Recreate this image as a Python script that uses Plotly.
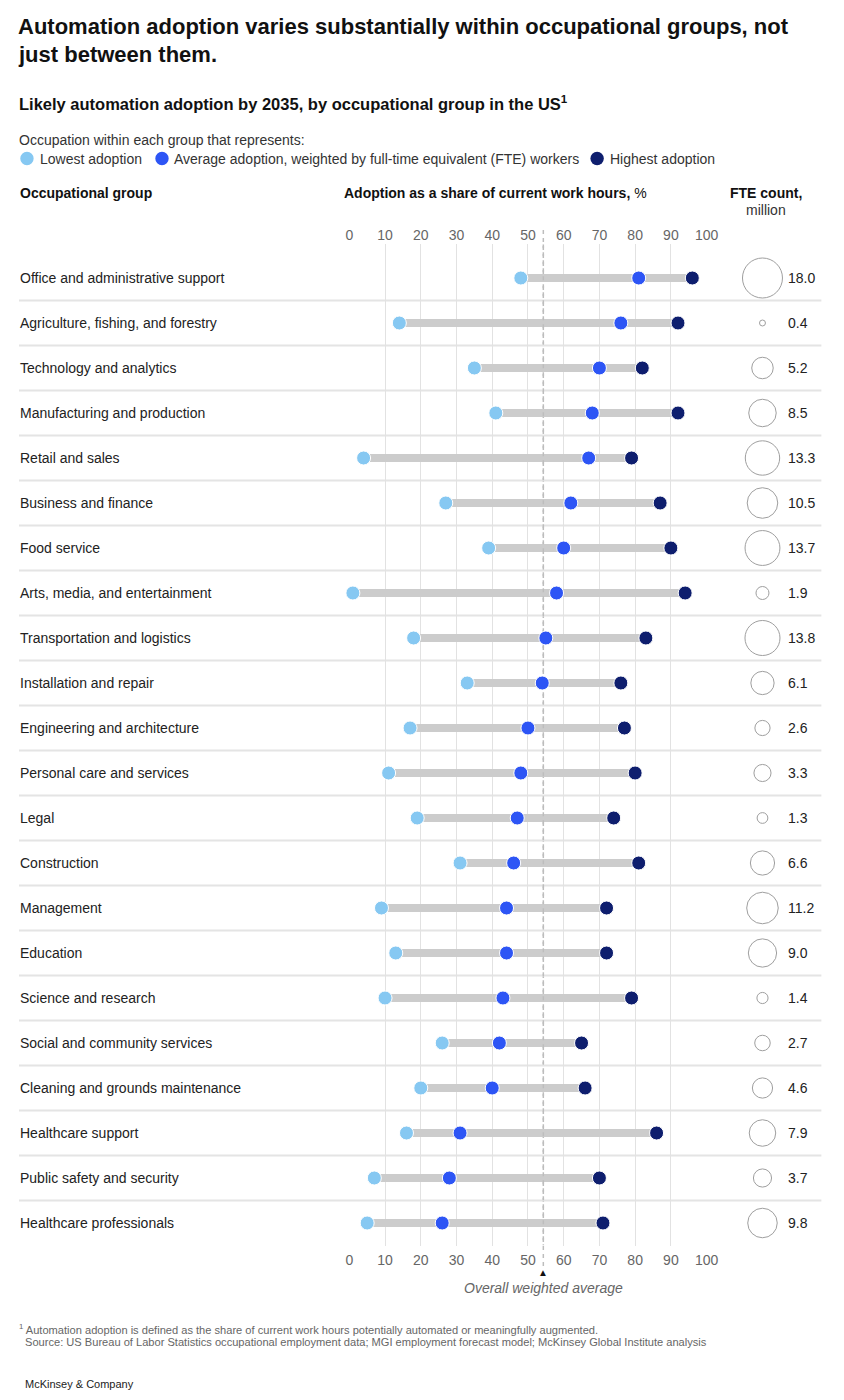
import plotly.graph_objects as go

# data
groups = [
    "Office and administrative support", "Agriculture, fishing, and forestry",
    "Technology and analytics", "Manufacturing and production", "Retail and sales",
    "Business and finance", "Food service", "Arts, media, and entertainment",
    "Transportation and logistics", "Installation and repair",
    "Engineering and architecture", "Personal care and services", "Legal",
    "Construction", "Management", "Education", "Science and research",
    "Social and community services", "Cleaning and grounds maintenance",
    "Healthcare support", "Public safety and security", "Healthcare professionals",
]
lowest = [48, 14, 35, 41, 4, 27, 39, 1, 18, 33, 17, 11, 19, 31, 9, 13, 10, 26, 20, 16, 7, 5]
average = [81, 76, 70, 68, 67, 62, 60, 58, 55, 54, 50, 48, 47, 46, 44, 44, 43, 42, 40, 31, 28, 26]
highest = [96, 92, 82, 92, 79, 87, 90, 94, 83, 76, 77, 80, 74, 81, 72, 72, 79, 65, 66, 86, 70, 71]
fte = [18.0, 0.4, 5.2, 8.5, 13.3, 10.5, 13.7, 1.9, 13.8, 6.1, 2.6, 3.3, 1.3, 6.6, 11.2, 9.0,
       1.4, 2.7, 4.6, 7.9, 3.7, 9.8]
overall_avg = 54.3
ticks = [0, 10, 20, 30, 40, 50, 60, 70, 80, 90, 100]

W, H = 844, 1400
FONT = "Liberation Sans"
C_LOW, C_AVG, C_HIGH = "#86c8f2", "#2d55f5", "#0e1e6e"
rows = list(range(len(groups)))


# the page comes out slightly squeezed horizontally, so map screen px -> paper
def px(x):
    return ((x - 3) / 0.983) / W


def py(y):
    return 1 - y / H


fig = go.Figure()

# gray range bars
bx, by = [], []
for i in rows:
    bx += [lowest[i], highest[i], None]
    by += [i, i, None]
fig.add_trace(go.Scatter(x=bx, y=by, mode="lines", line=dict(color="#cccccc", width=8),
                         hoverinfo="skip", showlegend=False))

# dashed overall average inside the plot area (above the bars)
fig.add_trace(go.Scatter(x=[overall_avg, overall_avg], y=[-0.75, 21.5], mode="lines",
                         line=dict(color="#bdbdbd", width=1.5, dash="4px,4px"),
                         hoverinfo="skip", showlegend=False))

for vals, col, name in [(lowest, C_LOW, "Lowest adoption"),
                        (average, C_AVG, "Average adoption"),
                        (highest, C_HIGH, "Highest adoption")]:
    fig.add_trace(go.Scatter(x=vals, y=rows, mode="markers", name=name, cliponaxis=False,
                             marker=dict(color=col, size=14, line=dict(color="white", width=1)),
                             showlegend=False))

# FTE bubbles
fig.add_trace(go.Scatter(x=[0.5] * len(rows), y=rows, xaxis="x2", mode="markers",
                         cliponaxis=False, showlegend=False,
                         marker=dict(size=fte, sizemode="area", sizeref=2 * max(fte) / 40 ** 2,
                                     color="white", line=dict(color="#777777", width=1))))

fig.update_layout(
    width=W, height=H, autosize=False, margin=dict(l=0, r=0, t=0, b=0),
    paper_bgcolor="white", plot_bgcolor="white",
    font=dict(family=FONT, size=14, color="#222222"),
    xaxis=dict(domain=[px(349), px(707)], range=[0, 100], tickvals=ticks,
               showgrid=True, gridcolor="#e2e2e2", gridwidth=1, zeroline=False,
               showline=False, ticks="", tickfont=dict(size=14, color="#666666"),
               ticklabelstandoff=4, fixedrange=True),
    xaxis3=dict(domain=[px(349), px(707)], range=[0, 100], tickvals=ticks, overlaying="x",
                side="top", showgrid=False, zeroline=False, showline=False, ticks="",
                tickfont=dict(size=14, color="#666666"), ticklabelstandoff=0,
                anchor="y", matches="x"),
    xaxis2=dict(domain=[px(740), px(786)], range=[0, 1], visible=False, anchor="y"),
    yaxis=dict(domain=[py(1245.5), py(244.25)], range=[21.5, -0.75], visible=False,
               fixedrange=True),
    showlegend=False,
)
# keep one invisible trace on xaxis3 so the top ticks render
fig.add_trace(go.Scatter(x=[0], y=[0], xaxis="x3", mode="markers", marker=dict(opacity=0),
                         hoverinfo="skip", showlegend=False))

shapes = []
# dashed average line extending beyond the plot area
shapes.append(dict(type="line", xref="x", yref="paper", x0=overall_avg, x1=overall_avg,
                   y0=py(1266), y1=py(228), layer="below",
                   line=dict(color="#bdbdbd", width=1.5, dash="4px,4px")))
# row separators
for i in rows[:-1]:
    shapes.append(dict(type="line", xref="paper", yref="y", x0=px(18), x1=px(822),
                       y0=i + 0.5, y1=i + 0.5, layer="below",
                       line=dict(color="#e4e4e4", width=2)))
# legend dots
for cx, col in [(26, C_LOW), (161.3, C_AVG), (597.3, C_HIGH)]:
    shapes.append(dict(type="circle", xref="paper", yref="paper", xsizemode="pixel",
                       ysizemode="pixel", xanchor=px(cx), yanchor=py(158.5),
                       x0=-6.7, x1=6.7, y0=-6.7, y1=6.7, fillcolor=col, line=dict(width=0)))
fig.update_layout(shapes=shapes)

ann = []


def txt(x, y, text, size=14, color="#222222", xanchor="left"):
    ann.append(dict(xref="paper", yref="paper", x=px(x), y=py(y), text=text, showarrow=False,
                    xanchor=xanchor, yanchor="middle", align=xanchor,
                    font=dict(family=FONT, size=size, color=color)))


txt(15.5, 27, "<b>Automation adoption varies substantially within occupational groups, not</b>",
    size=22, color="#111111")
txt(15.5, 55, "<b>just between them.</b>", size=22, color="#111111")
txt(16.5, 103, "<b>Likely automation adoption by 2035, by occupational group in the US<sup>1</sup></b>",
    size=16.5, color="#111111")
txt(16.5, 140, "Occupation within each group that represents:", size=14, color="#333333")
txt(36.8, 158.5, "Lowest adoption", size=14, color="#333333")
txt(171.8, 158.5, "Average adoption, weighted by full-time equivalent (FTE) workers", size=14,
    color="#333333")
txt(608.2, 158.5, "Highest adoption", size=14, color="#333333")
txt(17.5, 193, "<b>Occupational group</b>", size=14, color="#111111")
txt(341.5, 193, "<b>Adoption as a share of current work hours,</b> %", size=14, color="#111111")
txt(767, 193, "<b>FTE count,</b>", size=14, color="#111111", xanchor="center")
txt(767, 210, "million", size=14, color="#333333", xanchor="center")

for i, g in enumerate(groups):
    ann.append(dict(xref="paper", yref="y", x=px(16.8), y=i, text=g, showarrow=False,
                    xanchor="left", yanchor="middle", font=dict(size=14, color="#222222")))
    ann.append(dict(xref="paper", yref="y", x=px(786.5), y=i, text=f"{fte[i]:.1f}",
                    showarrow=False, xanchor="left", yanchor="middle",
                    font=dict(size=14, color="#222222")))

ann.append(dict(xref="x", yref="paper", x=overall_avg, y=py(1272), text="▲", showarrow=False,
                xanchor="center", yanchor="middle", font=dict(size=10, color="#111111")))
ann.append(dict(xref="x", yref="paper", x=overall_avg, y=py(1288),
                text="<i>Overall weighted average</i>", showarrow=False, xanchor="center",
                yanchor="middle", font=dict(size=14, color="#666666")))

txt(16.5, 1329, "<sup>1</sup> Automation adoption is defined as the share of current work hours "
    "potentially automated or meaningfully augmented.", size=11.1, color="#666666")
txt(22.5, 1342, "Source: US Bureau of Labor Statistics occupational employment data; MGI employment "
    "forecast model; McKinsey Global Institute analysis", size=11.1, color="#666666")
txt(22.5, 1384, "McKinsey &amp; Company", size=11, color="#222222")

fig.update_layout(annotations=ann)
fig.write_html(
    "out.html",
    config={"responsive": False, "displayModeBar": False, "staticPlot": True},
    post_script="document.body.style.margin='0px';"
                "document.documentElement.style.overflow='hidden';"
                "document.body.style.overflow='hidden';",
)
